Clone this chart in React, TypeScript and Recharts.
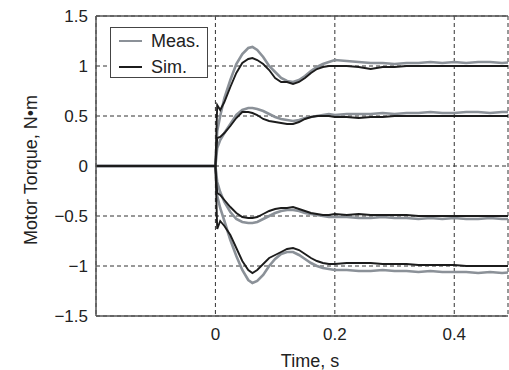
import React from "react"
import { CartesianGrid, Line, LineChart, ReferenceLine, XAxis, YAxis } from "recharts"

// time base, s
const time = [
  -0.2, -0.1, 0, 0.003, 0.008, 0.015, 0.025, 0.035, 0.045, 0.055, 0.062, 0.07, 0.08, 0.09,
  0.1, 0.11, 0.12, 0.13, 0.14, 0.15, 0.16, 0.17, 0.18, 0.19, 0.2,
  0.22, 0.24, 0.26, 0.28, 0.3, 0.32, 0.34, 0.36, 0.38, 0.4, 0.42, 0.44, 0.46, 0.48, 0.5,
]

// measured torque, N·m (one array per reference step)
const meas1 = [
  0, 0, 0, 0.35, 0.5, 0.68, 0.86, 1.02, 1.12, 1.18, 1.19, 1.16, 1.09, 1.0,
  0.94, 0.88, 0.85, 0.84, 0.86, 0.9, 0.95, 0.99, 1.02, 1.04, 1.06,
  1.05, 1.04, 1.03, 1.03, 1.02, 1.03, 1.03, 1.04, 1.03, 1.04, 1.03, 1.04, 1.04, 1.03, 1.04,
]
const meas2 = [
  0, 0, 0, 0.18, 0.26, 0.33, 0.42, 0.51, 0.56, 0.58, 0.58, 0.57, 0.55, 0.52,
  0.49, 0.47, 0.46, 0.45, 0.46, 0.48, 0.49, 0.5, 0.51, 0.52, 0.51,
  0.52, 0.52, 0.52, 0.53, 0.52, 0.53, 0.53, 0.54, 0.53, 0.53, 0.54, 0.54, 0.53, 0.54, 0.54,
]
const meas3 = [
  0, 0, 0, -0.16, -0.26, -0.36, -0.46, -0.53, -0.56, -0.57, -0.57, -0.56, -0.53, -0.5,
  -0.47, -0.45, -0.44, -0.44, -0.45, -0.47, -0.48, -0.49, -0.5, -0.51, -0.51,
  -0.51, -0.52, -0.52, -0.51, -0.52, -0.52, -0.53, -0.52, -0.53, -0.52, -0.53, -0.53, -0.52, -0.53, -0.53,
]
const meas4 = [
  0, 0, 0, -0.3, -0.42, -0.55, -0.74, -0.9, -1.04, -1.14, -1.17, -1.15, -1.09, -1.0,
  -0.93, -0.88, -0.86, -0.86, -0.89, -0.93, -0.97, -1.0, -1.02, -1.03, -1.04,
  -1.04, -1.05, -1.05, -1.04, -1.05, -1.05, -1.06, -1.05, -1.06, -1.06, -1.06, -1.07, -1.06, -1.07, -1.06,
]

// simulated torque, N·m
const sim1 = [
  0, 0, 0, 0.61, 0.56, 0.64, 0.79, 0.93, 1.03, 1.07, 1.08, 1.06, 1.02, 0.96,
  0.88, 0.84, 0.84, 0.82, 0.84, 0.88, 0.93, 0.97, 0.99, 1.0, 1.0,
  1.0, 0.99, 0.97, 0.99, 0.99, 1.0, 1.0, 1.0, 1.0, 1.0, 1.0, 1.0, 1.0, 1.0, 1.0,
]
const sim2 = [
  0, 0, 0, 0.28, 0.29, 0.33, 0.4, 0.48, 0.54, 0.54, 0.53, 0.51, 0.47, 0.45,
  0.44, 0.43, 0.42, 0.42, 0.44, 0.47, 0.49, 0.5, 0.5, 0.5, 0.49,
  0.49, 0.48, 0.49, 0.49, 0.5, 0.5, 0.5, 0.5, 0.5, 0.5, 0.5, 0.5, 0.5, 0.5, 0.5,
]
const sim3 = [
  0, 0, 0, -0.27, -0.29, -0.34, -0.41, -0.47, -0.51, -0.52, -0.52, -0.51, -0.48, -0.45,
  -0.43, -0.42, -0.42, -0.41, -0.43, -0.45, -0.47, -0.48, -0.49, -0.49, -0.48,
  -0.49, -0.48, -0.49, -0.49, -0.49, -0.49, -0.5, -0.5, -0.5, -0.5, -0.5, -0.5, -0.5, -0.5, -0.5,
]
const sim4 = [
  0, 0, 0, -0.63, -0.55, -0.6, -0.69, -0.82, -0.95, -1.04, -1.07, -1.04, -0.98, -0.92,
  -0.89, -0.86, -0.83, -0.82, -0.84, -0.88, -0.92, -0.95, -0.97, -0.98, -0.98,
  -0.97, -0.97, -0.97, -0.98, -0.98, -0.98, -0.99, -0.99, -0.99, -0.99, -1.0, -1.0, -1.0, -1.0, -1.0,
]

const xTicks = [0, 0.2, 0.4]
const yTicks = [-1.5, -1, -0.5, 0, 0.5, 1, 1.5]

const MEAS = "#8b9198"
const SIM = "#1c1c1c"
const FONT = "'Liberation Sans', Arial, sans-serif"

const data = time.map((t, i) => ({
  t,
  m1: meas1[i], m2: meas2[i], m3: meas3[i], m4: meas4[i],
  s1: sim1[i], s2: sim2[i], s3: sim3[i], s4: sim4[i],
}))

const fmt = (v: number) => String(v).replace("-", "\u2212")

function YLabel() {
  return (
    <text
      x={31}
      y={170}
      transform="rotate(-90, 31, 170)"
      textAnchor="middle"
      dominantBaseline="central"
      fontSize={18}
      fontFamily={FONT}
      fill="#222"
    >
      Motor Torque, N•m
    </text>
  )
}

function XLabel() {
  return (
    <text x={310} y={367} textAnchor="middle" fontSize={18} fontFamily={FONT} fill="#222">
      Time, s
    </text>
  )
}

export default function App() {
  return (
    <div style={{ position: "fixed", left: 0, top: 0, width: 509, height: 370, overflow: "hidden", background: "#fff" }}>
      <LineChart width={509} height={370} data={data} margin={{ top: 16, right: 1, left: 0, bottom: 0 }}>
        <CartesianGrid stroke="#333" strokeDasharray="4 3" strokeWidth={1} />
        <XAxis
          dataKey="t"
          type="number"
          domain={[-0.2, 0.49]}
          allowDataOverflow
          ticks={xTicks}
          tickFormatter={fmt}
          height={54}
          tickLine={false}
          tickMargin={6}
          stroke="#555"
          strokeWidth={1.5}
          tick={{ fontSize: 17, fill: "#222", fontFamily: FONT }}
          label={<XLabel />}
        />
        <YAxis
          type="number"
          domain={[-1.5, 1.5]}
          ticks={yTicks}
          tickFormatter={fmt}
          width={96}
          tickLine={false}
          tickMargin={2}
          stroke="#555"
          strokeWidth={1.5}
          tick={{ fontSize: 17, fill: "#222", fontFamily: FONT }}
          label={<YLabel />}
        />
        <ReferenceLine y={1.5} stroke="#555" strokeWidth={1.5} />
        <Line dataKey="m1" stroke={MEAS} strokeWidth={2.6} dot={false} type="linear" isAnimationActive={false} />
        <Line dataKey="m2" stroke={MEAS} strokeWidth={2.6} dot={false} type="linear" isAnimationActive={false} />
        <Line dataKey="m3" stroke={MEAS} strokeWidth={2.6} dot={false} type="linear" isAnimationActive={false} />
        <Line dataKey="m4" stroke={MEAS} strokeWidth={2.6} dot={false} type="linear" isAnimationActive={false} />
        <Line dataKey="s1" stroke={SIM} strokeWidth={1.9} dot={false} type="linear" isAnimationActive={false} />
        <Line dataKey="s2" stroke={SIM} strokeWidth={1.9} dot={false} type="linear" isAnimationActive={false} />
        <Line dataKey="s3" stroke={SIM} strokeWidth={1.9} dot={false} type="linear" isAnimationActive={false} />
        <Line dataKey="s4" stroke={SIM} strokeWidth={1.9} dot={false} type="linear" isAnimationActive={false} />
      </LineChart>
      <div
        style={{
          position: "absolute", left: 110, top: 27, width: 96, height: 49,
          border: "1px solid #444", background: "#fff", fontFamily: FONT, fontSize: 18, color: "#222",
        }}
      >
        {[["Meas.", MEAS, 2.6], ["Sim.", SIM, 2]].map(([name, color, w], i) => (
          <div key={String(name)} style={{ position: "absolute", left: 8, top: 2 + i * 26, height: 22, display: "flex", alignItems: "center" }}>
            <span style={{ display: "inline-block", width: 23, height: Number(w), background: String(color), marginRight: 9 }} />
            {name}
          </div>
        ))}
      </div>
    </div>
  )
}
